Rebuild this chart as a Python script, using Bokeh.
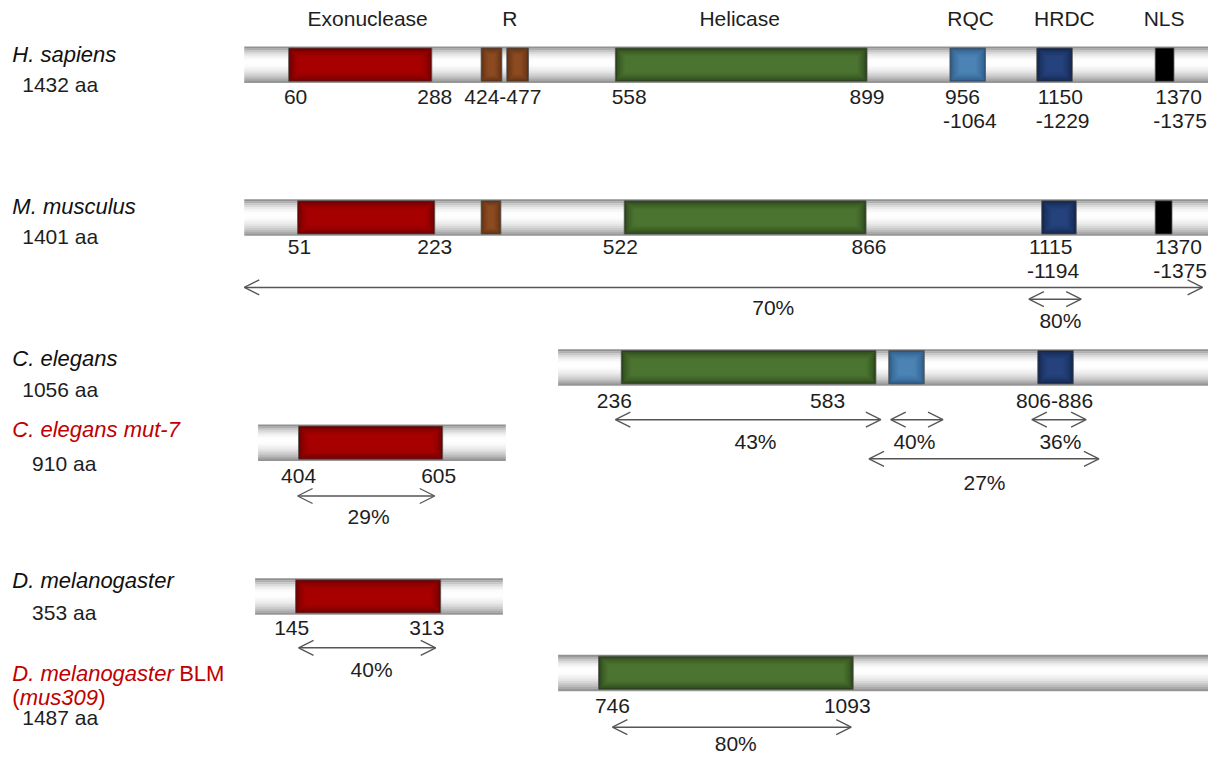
from bokeh.plotting import figure
from bokeh.models import Arrow, OpenHead, ColumnDataSource, Range1d
from bokeh.core.properties import value
from bokeh.embed import file_html
from bokeh.resources import INLINE

# ---------------- data ----------------
species = ["H. sapiens", "M. musculus", "C. elegans", "C. elegans mut-7",
           "D. melanogaster", "D. melanogaster"]
species_len = ["1432 aa", "1401 aa", "1056 aa", "910 aa", "353 aa", "1487 aa"]
species_red = [False, False, False, True, False, True]

domain_names = ["Exonuclease", "R", "Helicase", "RQC", "HRDC", "NLS"]

# domains: row index, domain type
dom_row = [0, 0, 0, 0, 0, 0, 0,
           1, 1, 1, 1, 1,
           2, 2, 2,
           3,
           4,
           5]
dom_type = ["Exonuclease", "R", "R", "Helicase", "RQC", "HRDC", "NLS",
            "Exonuclease", "R", "Helicase", "HRDC", "NLS",
            "Helicase", "RQC", "HRDC",
            "Exonuclease",
            "Exonuclease",
            "Helicase"]

# residue boundary labels
res_labels = ["60", "288", "424-477", "558", "899", "956", "-1064", "1150", "-1229", "1370", "-1375",
              "51", "223", "522", "866", "1115", "-1194", "1370", "-1375",
              "236", "583", "806-886",
              "404", "605",
              "145", "313",
              "746", "1093"]

# identity percentages
pct_labels = ["70%", "80%", "43%", "40%", "36%", "27%", "29%", "40%", "80%"]

# ---------------- layout (schematic positions) ----------------
tube_x0 = [247, 247, 565, 261, 258, 565]
tube_x1 = [1224, 1224, 1224, 512, 509, 1224]
tube_top = [47, 203, 356, 433, 590, 668]
tube_h = 37

dom_x0 = [292, 487, 513, 623, 962, 1050, 1170,
          301, 487, 632, 1055, 1170,
          629, 900, 1051,
          302,
          299,
          606]
dom_x1 = [437, 508, 535, 878, 998, 1086, 1189,
          440, 507, 877, 1090, 1187,
          887, 936, 1087,
          448,
          446,
          864]

head_x = [372, 516, 749, 983, 1078, 1179]
head_y = 18

res_x = [299, 440, 509, 637, 878, 957, 955, 1051, 1049, 1170, 1168,
         303, 440, 628, 880, 1042, 1040, 1170, 1168,
         622, 838, 1068,
         302, 444,
         295, 432,
         620, 858]
res_y = [99, 99, 99, 99, 99, 99, 123, 99, 123, 99, 123,
         252, 252, 252, 252, 252, 276, 252, 276,
         409, 409, 409,
         486, 486,
         641, 641,
         720, 720]
res_align = ["center"] * 5 + ["left"] * 6 + ["center"] * 4 + ["left"] * 4 + ["center"] * 9

arr_x0 = [247, 1042, 623, 902, 1045, 880, 301, 302, 620]
arr_x1 = [1218, 1095, 892, 955, 1100, 1113, 440, 441, 862]
arr_y = [293, 305, 428, 428, 428, 468, 506, 661, 742]
pct_x = [783, 1074, 765, 926, 1074, 997, 373, 376, 745]
pct_y = [313, 327, 450, 450, 450, 492, 527, 683, 759]

sp_x = [12, 12, 12, 12, 12, 12]
sp_y = [55, 210, 366, 438, 592, 687]
len_x = [22, 22, 22, 32, 32, 22]
len_y = [86, 241, 397, 473, 625, 732]

# ---------------- styles ----------------
FONT = "Liberation Sans"
FS = "21px"
FS_SP = "22px"
RED = "#c00000"
TXT = "#1e1e1e"
dom_colors = {
    "Exonuclease": ("#6a0000", "#a60000"),
    "R": ("#5a2e12", "#8c4a20"),
    "Helicase": ("#2a4219", "#4b7430"),
    "RQC": ("#2c5884", "#4a83b4"),
    "HRDC": ("#13244a", "#25427c"),
    "NLS": ("#000000", "#000000"),
}


def mix(c1, c2, f):
    a = [int(c1[i:i + 2], 16) for i in (1, 3, 5)]
    b = [int(c2[i:i + 2], 16) for i in (1, 3, 5)]
    return "#%02x%02x%02x" % tuple(int(round(a[k] + (b[k] - a[k]) * f)) for k in range(3))


p = figure(width=1208, height=757, output_backend="svg", toolbar_location=None,
           x_range=Range1d(0, 1224), y_range=Range1d(773, 0), min_border=0)
p.axis.visible = False
p.grid.visible = False
p.outline_line_color = None
p.background_fill_color = "white"

# tubes with vertical gradient
N = 18
ql, qr, qt, qb, qc = [], [], [], [], []
for x0, x1, y0 in zip(tube_x0, tube_x1, tube_top):
    for i in range(N):
        t = (i + 0.5) / N
        if t < 0.42:
            g = 255 - 125 * ((0.42 - t) / 0.42) ** 2
        else:
            g = 255 - 115 * ((t - 0.42) / 0.58) ** 2
        g = int(max(0, min(255, g)))
        ql.append(x0); qr.append(x1)
        qt.append(y0 + i * tube_h / N); qb.append(y0 + (i + 1) * tube_h / N + 0.3)
        qc.append("#%02x%02x%02x" % (g, g, g))
p.quad(left=ql, right=qr, top=qt, bottom=qb, fill_color=qc, line_color=None)

# domains with vignette shading
K = 7
dl, dr, dt, db, dc = [], [], [], [], []
for r, ty, x0, x1 in zip(dom_row, dom_type, dom_x0, dom_x1):
    y0 = tube_top[r] + 1.5
    y1 = tube_top[r] + tube_h - 1.5
    edge, center = dom_colors[ty]
    w = x1 - x0
    for k in range(K):
        f = (k / (K - 1)) ** 0.6
        ins = k * min(1.6, w / (2.5 * K))
        dl.append(x0 + ins); dr.append(x1 - ins)
        dt.append(y0 + ins * 0.9); db.append(y1 - ins * 0.9)
        dc.append(mix(edge, center, f))
p.quad(left=dl, right=dr, top=dt, bottom=db, fill_color=dc, line_color=None)
p.quad(left=dom_x0, right=dom_x1,
       top=[tube_top[r] + 1.5 for r in dom_row],
       bottom=[tube_top[r] + tube_h - 1.5 for r in dom_row],
       fill_color=None, line_color="#555555", line_width=1, line_alpha=0.8)

common = dict(text_font=value(FONT), text_font_size=FS, text_baseline="middle")
common_sp = dict(text_font=value(FONT), text_font_size=FS_SP, text_baseline="middle")

# headers
p.text(x=head_x, y=[head_y] * len(head_x), text=domain_names, text_align="center",
       text_color=TXT, **common)

# residue labels
p.text(x=res_x, y=res_y, text=res_labels, text_align=res_align, text_color=TXT, **common)

# arrows
asrc = ColumnDataSource(dict(x0=arr_x0, x1=arr_x1, y=arr_y))
p.add_layout(Arrow(x_start="x0", y_start="y", x_end="x1", y_end="y", source=asrc,
                   line_color="#555555", line_width=1.5,
                   start=OpenHead(size=15, line_color="#555555", line_width=1.3),
                   end=OpenHead(size=15, line_color="#555555", line_width=1.3)))
p.text(x=pct_x, y=pct_y, text=pct_labels, text_align="center", text_color=TXT, **common)

# species names
sp_col = [RED if r else "#111111" for r in species_red]
p.text(x=sp_x, y=sp_y, text=species, text_align="left", text_color=sp_col,
       text_font_style="italic", **common_sp)
p.text(x=[181], y=[sp_y[5]], text=["BLM"], text_align="left", text_color=RED, **common_sp)
p.text(x=[12, 99], y=[712, 712], text=["(", ")"], text_align="left", text_color=RED, **common_sp)
p.text(x=[19.5], y=[712], text=["mus309"], text_align="left", text_color=RED,
       text_font_style="italic", **common_sp)
p.text(x=len_x, y=len_y, text=species_len, text_align="left", text_color=TXT, **common)

open("out.html", "w").write(file_html(p, INLINE))
